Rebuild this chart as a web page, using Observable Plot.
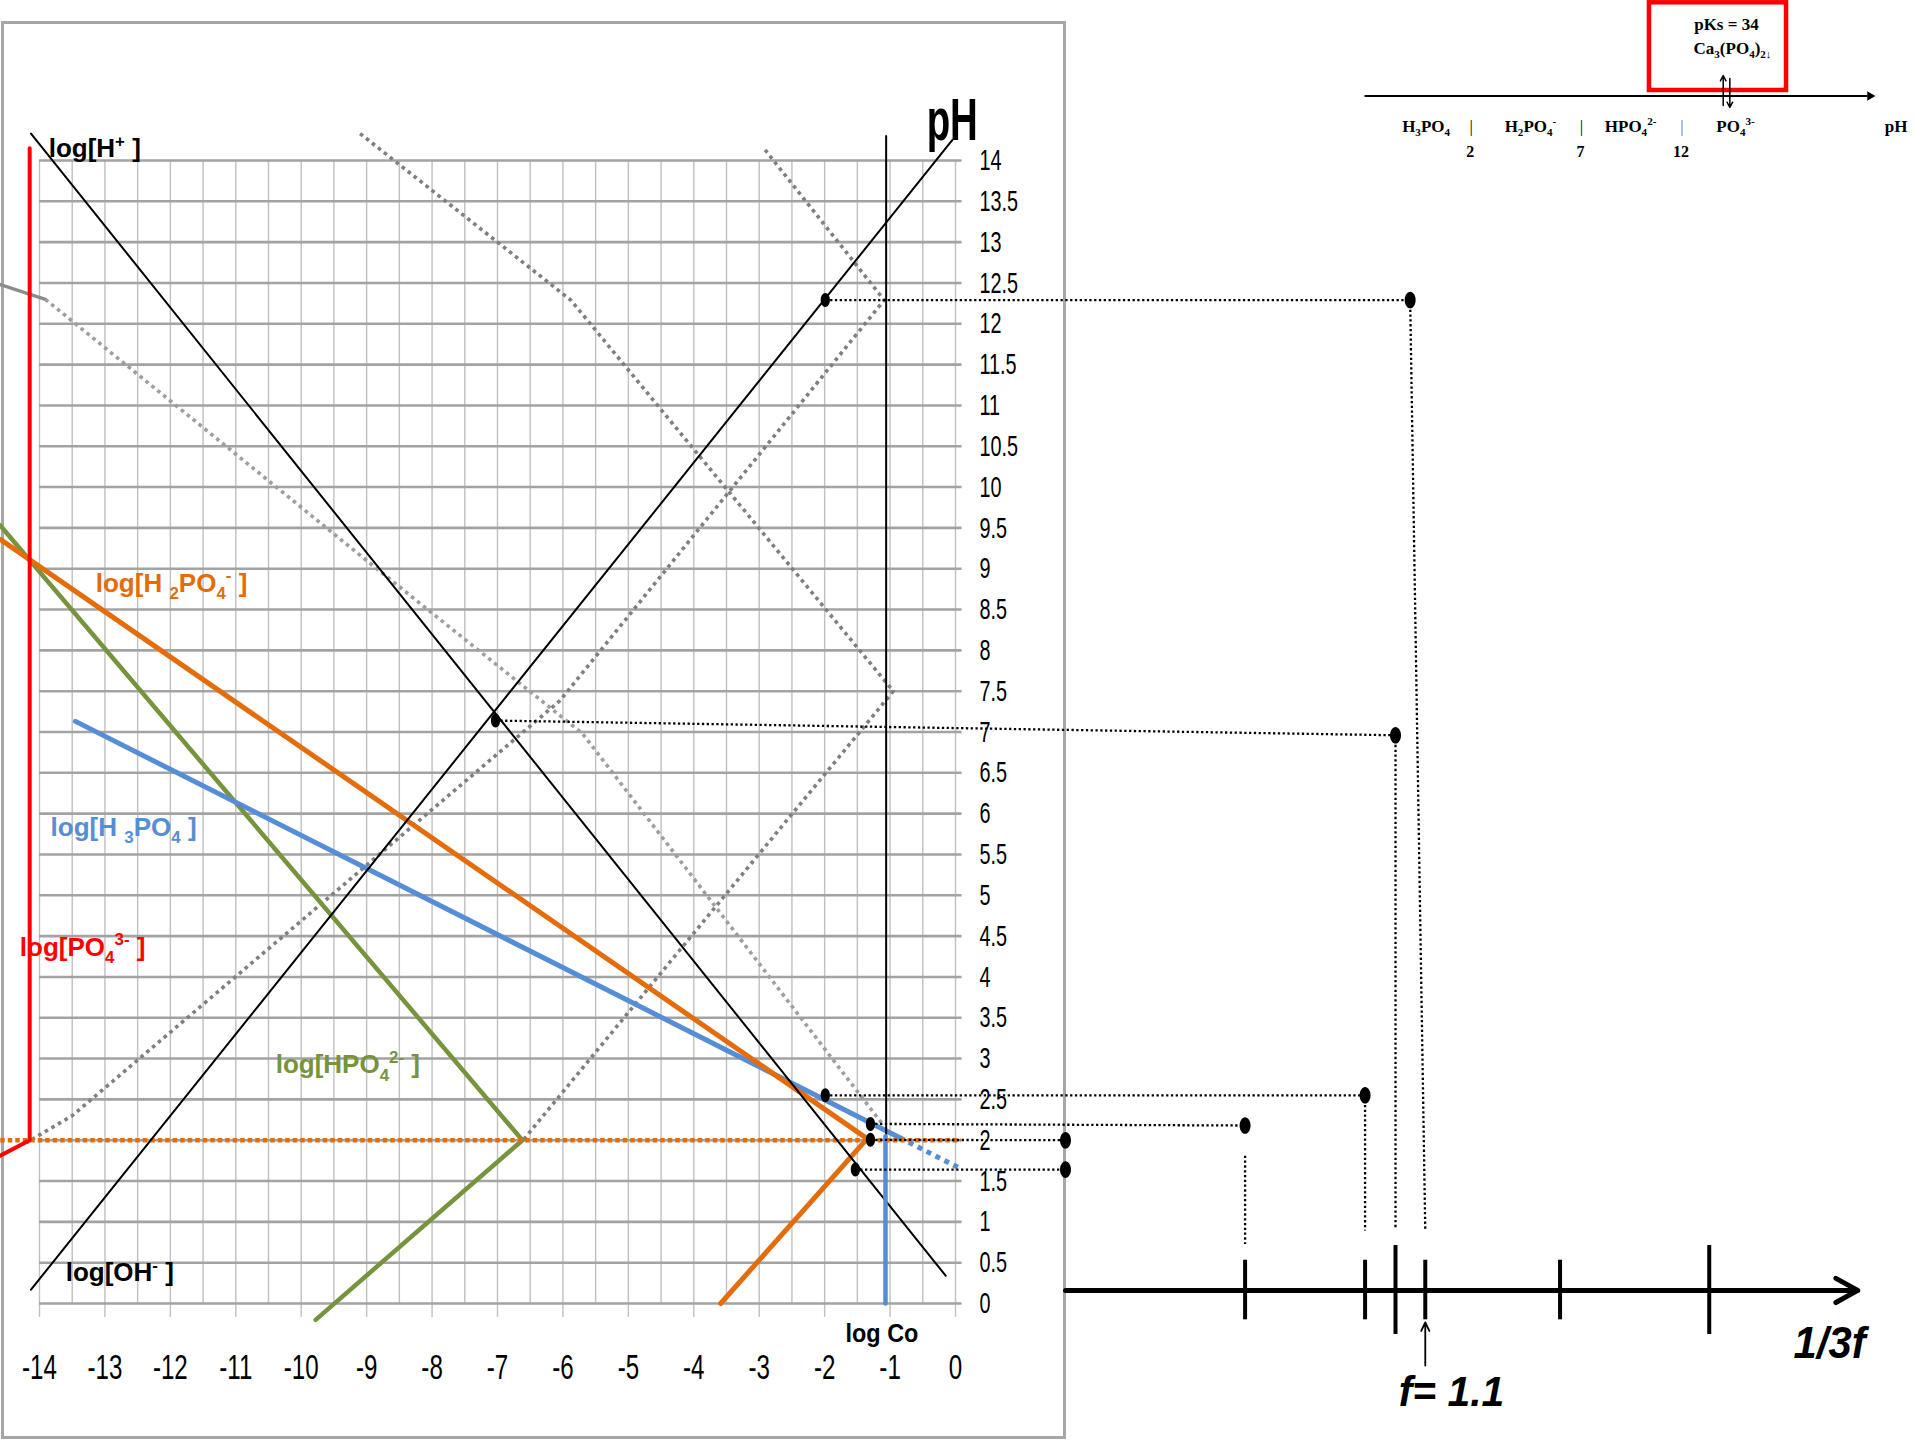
<!DOCTYPE html>
<html><head><meta charset="utf-8">
<script src="https://cdn.jsdelivr.net/npm/d3@7"></script>
<script src="https://cdn.jsdelivr.net/npm/@observablehq/plot@0.6"></script>
<style>
html,body{margin:0;padding:0;background:#fff;}
#wrap{position:relative;width:1917px;height:1440px;overflow:hidden;}
#main{position:absolute;left:0;top:0;}
#inset{position:absolute;left:1340px;top:0;}
</style></head>
<body><div id="wrap"><div id="main"></div><div id="inset"></div></div>
<script>
// ================= DATA =================
// axes
const logCTicks = d3.range(-14, 0.5, 1);          // -14 .. 0
const pHTicks   = d3.range(0, 14.01, 0.5);         // 0 .. 14
const gridX     = d3.range(-14, 0.01, 0.5);

// black reference lines (x = log C, y = pH)
const lineH   = [[-14.13, 14.33], [-0.15, 0.34]];           // log[H+]
const lineOH  = [[-14.13, 0.17], [-0.05, 14.25]];           // log[OH-]
const lineCo  = [[-1.06, 14.30], [-1.06, 2.0]];             // log Co

// species lines
const lineH3PO4      = [[-13.45, 7.13], [-0.85, 2.03]];
const lineH3PO4dot   = [[-0.85, 2.03], [0.08, 1.65]];
const lineH3PO4vert  = [[-1.07, 2.05], [-1.07, 0]];
const lineH2PO4      = [[-14.6, 9.36], [-1.35, 2.02], [-3.59, 0]];
const lineH2PO4dot   = [[-14.6, 2.0], [0.08, 2.0]];
const lineHPO4       = [[-14.6, 9.53], [-6.62, 2.0], [-9.78, -0.2]];
const linePO4        = [[-14.15, 14.15], [-14.15, 2.0], [-14.6, 1.81]];

// grey construction lines
const greyA     = [[-9.10, 14.33], [-5.88, 12.29], [-0.95, 7.5], [-6.62, 1.99]];
const greyB     = [[-2.91, 14.13], [-1.09, 12.29], [-6.05, 7.38], [-13.5, 2.3], [-14.2, 1.97]];
const greyC     = [[-13.91, 12.30], [-9.0, 9.1], [-5.7, 6.98], [-1.1, 2.18]];
const greySolid = [[-14.6, 12.48], [-13.91, 12.30]];

// remarkable points and their projections onto the 1/3f axis
const points = [[-1.99, 12.29], [-7.03, 7.14], [-1.99, 2.55], [-1.30, 2.20], [-1.30, 2.005], [-1.53, 1.64]];
const projEnds = [[6.949, 12.29], [6.725, 6.96], [6.26, 2.55], [4.426, 2.18], [1.681, 2.0], [1.681, 1.64]];
const projDrops = [[6.949, 12.29, 7.18, 0.89], [6.725, 6.96, 6.725, 0.915], [6.26, 2.55, 6.26, 0.894], [4.426, 1.81, 4.426, 0.73]];
const fAxis = {from: 1.681, to: 13.79, level: 0.16};
const fTicks = [4.426, 6.26, 6.725, 7.18, 9.24, 11.52];
const fTickTall = [false, false, true, false, false, true];
const fValue = 1.1;

// labels
const seriesLabels = [
  {text: "log[H{^+} ]",            x: -13.86, y: 14.04, color: "#000000"},
  {text: "log[H {_2}PO{_4}{^-} ]", x: -13.14, y: 8.72,  color: "#E46C0A"},
  {text: "log[H {_3}PO{_4} ]",     x: -13.83, y: 5.73,  color: "#558ED5"},
  {text: "log[PO{_4}{^3-} ]",      x: -14.30, y: 4.26,  color: "#FF0000"},
  {text: "log[HPO{_4}{^2-} ]",     x: -10.39, y: 2.82,  color: "#77933C"},
  {text: "log[OH{^-} ]",           x: -13.60, y: 0.27,  color: "#000000"}
];

// inset (pH predominance axis)
const insetSpecies = [
  {text: "H{_3}PO{_4}", pH: 0},
  {text: "H{_2}PO{_4}{^-}", pH: 4.73},
  {text: "HPO{_4}{^2-}", pH: 9.49},
  {text: "PO{_4}{^3-}", pH: 14.71}
];
const pKa = [2, 7, 12];
const pKaColors = ["#000000", "#000000", "#7a5c99"];
const pKs = 34;

// ================= HELPERS =================
const P = a => a.map(([x, y]) => ({x, y}));
const ellipse = {
  draw(ctx, size) {
    const r = Math.sqrt(size / Math.PI), rx = 0.66 * r, ry = r, k = 0.5523;
    ctx.moveTo(rx, 0);
    ctx.bezierCurveTo(rx, k * ry, k * rx, ry, 0, ry);
    ctx.bezierCurveTo(-k * rx, ry, -rx, k * ry, -rx, 0);
    ctx.bezierCurveTo(-rx, -k * ry, -k * rx, -ry, 0, -ry);
    ctx.bezierCurveTo(k * rx, -ry, rx, -k * ry, rx, 0);
    ctx.closePath();
  }
};
const ORANGE = "#E46C0A", BLUE = "#558ED5", GREEN = "#77933C", RED = "#FF0000";
const SANS = "Liberation Sans, Arial, sans-serif";
const SERIF = "Liberation Serif, Times New Roman, serif";

const line = (pts, o) => Plot.line(P(pts), {x: "x", y: "y", ...o});
const dotted = {strokeWidth: 3.6, strokeDasharray: "3.6,4", strokeLinecap: "butt"};

// ================= MAIN PLOT =================
const main = Plot.plot({
  width: 1917, height: 1440,
  marginLeft: 2, marginTop: 22, marginRight: 853, marginBottom: 3,
  x: {domain: [-14, 0], range: [39, 955], axis: null},
  y: {domain: [0, 14], range: [1303, 160], axis: null},
  style: {background: "white", overflow: "visible"},
  marks: [
    Plot.frame({stroke: "#a6a6a6", strokeWidth: 3}),
    // grid
    Plot.ruleX(gridX, {y1: 0, y2: 14, stroke: "#c0c0c0", strokeWidth: 1.4}),
    Plot.ruleX(logCTicks, {y1: -0.17, y2: 0, stroke: "#c0c0c0", strokeWidth: 1.4}),
    Plot.ruleY(pHTicks, {x1: -14, x2: 0.1, stroke: "#a3a3a3", strokeWidth: 2.6}),
    // grey construction lines
    line(greySolid, {stroke: "#8c8c8c", strokeWidth: 3.5}),
    line(greyC, {stroke: "#9e9e9e", ...dotted}),
    line(greyA, {stroke: "#7f7f7f", ...dotted}),
    line(greyB, {stroke: "#7f7f7f", ...dotted}),
    // species
    line(lineHPO4, {stroke: GREEN, strokeWidth: 4.5}),
    line(lineH3PO4, {stroke: BLUE, strokeWidth: 5}),
    line(lineH3PO4dot, {stroke: BLUE, strokeWidth: 5, strokeDasharray: "5,5", strokeLinecap: "butt"}),
    line(lineH2PO4, {stroke: ORANGE, strokeWidth: 5}),
    line(lineH2PO4dot, {stroke: ORANGE, strokeWidth: 4.5, strokeDasharray: "4.5,3", strokeLinecap: "butt"}),
    line(linePO4, {stroke: RED, strokeWidth: 4}),
    // black lines
    line(lineH, {stroke: "black", strokeWidth: 2}),
    line(lineOH, {stroke: "black", strokeWidth: 2}),
    line(lineCo, {stroke: "black", strokeWidth: 2}),
    line(lineH3PO4vert, {stroke: BLUE, strokeWidth: 4.5}),
    // projections
    Plot.link(points.map((p, i) => ({x1: p[0], y1: p[1], x2: projEnds[i][0], y2: projEnds[i][1]})),
      {x1: "x1", y1: "y1", x2: "x2", y2: "y2", stroke: "black", strokeWidth: 2.3, strokeDasharray: "2.3,2.5"}),
    Plot.link(projDrops.map(d => ({x1: d[0], y1: d[1], x2: d[2], y2: d[3]})),
      {x1: "x1", y1: "y1", x2: "x2", y2: "y2", stroke: "black", strokeWidth: 2.3, strokeDasharray: "2.3,2.5"}),
    Plot.dot(P(points), {x: "x", y: "y", r: 7, symbol: ellipse, fill: "black", stroke: "none"}),
    Plot.dot(P(projEnds), {x: "x", y: "y", r: 8.3, symbol: ellipse, fill: "black", stroke: "none"}),
    // 1/3f axis
    Plot.arrow([fAxis], {x1: "from", x2: "to", y1: "level", y2: "level", stroke: "black", strokeWidth: 5, headLength: 7.5, headAngle: 58}),
    Plot.ruleX(fTicks.map((x, i) => ({x, tall: fTickTall[i]})),
      {x: "x", y1: d => d.tall ? 0.71 : 0.53, y2: d => d.tall ? -0.38 : -0.2, stroke: "black", strokeWidth: 4}),
    Plot.arrow([{x: fTicks[3]}], {x1: "x", x2: "x", y1: -0.76, y2: -0.23, stroke: "black", strokeWidth: 1.8, headLength: 8, headAngle: 50}),
    Plot.text([`f= ${fValue}`], {x: 7.58, y: -1.25, text: d => d, fontFamily: SANS, fontWeight: "bold", fontStyle: "italic", fontSize: 43, lineAnchor: "bottom", textAnchor: "middle", ariaLabel: () => "fval"}),
    Plot.text(["1/3f"], {x: 13.36, y: -0.67, text: d => d, fontFamily: SANS, fontWeight: "bold", fontStyle: "italic", fontSize: 44, lineAnchor: "bottom", textAnchor: "middle", ariaLabel: () => "fval"}),
    // tick labels
    Plot.text(pHTicks, {x: 0, y: d => d, text: d => String(d), dx: 24, textAnchor: "start", lineAnchor: "middle",
      fontFamily: SANS, fontSize: 30, fill: "black", ariaLabel: () => "ytick"}),
    Plot.text(logCTicks, {x: d => d, y: 0, dy: 64, text: d => String(d), textAnchor: "middle", lineAnchor: "middle",
      fontFamily: SANS, fontSize: 35, fill: "black", ariaLabel: () => "xtick"}),
    Plot.text(["pH"], {x: -0.05, y: 14.245, text: d => d, fontFamily: SANS, fontWeight: "bold", fontSize: 60, textAnchor: "middle", lineAnchor: "bottom", ariaLabel: () => "ph"}),
    Plot.text(["log Co"], {x: -1.68, y: -0.474, text: d => d, fontFamily: SANS, fontWeight: "bold", fontSize: 26, textAnchor: "start", lineAnchor: "bottom", ariaLabel: () => "logco"}),
    Plot.text(seriesLabels, {x: "x", y: "y", text: "text", fill: "color", fontFamily: SANS, fontWeight: "bold", fontSize: 26, textAnchor: "start", lineAnchor: "bottom"})
  ]
});

// ================= INSET =================
const inset = Plot.plot({
  width: 577, height: 180, margin: 0,
  x: {type: "linear", domain: [2, 7, 12], range: [129.7, 240, 340.5], axis: null},
  y: {type: "linear", domain: [0, 180], range: [0, 180], axis: null},
  style: {background: "transparent", overflow: "visible"},
  marks: [
    Plot.rect([0], {x1: 10.43, x2: 17.25, y1: 2.3, y2: 90, fill: "none", stroke: RED, strokeWidth: 4.5}),
    Plot.ruleY([95.5], {x1: -2.77, x2: 21.3, stroke: "black", strokeWidth: 1.8}),
    Plot.dot([21.4], {x: d => d, y: 95.5, symbol: "triangle2", rotate: 90, r: 4.5, fill: "black"}),
    Plot.arrow([{x: 14.10, a: 105, b: 75}, {x: 14.43, a: 78, b: 107}], {x1: "x", x2: "x", y1: "a", y2: "b", stroke: "black", strokeWidth: 1.5, headLength: 6, headAngle: 55}),
    Plot.text(insetSpecies, {x: "pH", y: 131, text: "text", fontFamily: SERIF, fontWeight: "bold", fontSize: 17, lineAnchor: "bottom", textAnchor: "middle"}),
    Plot.text(pKa, {x: d => d + 0.05, y: 131, text: () => "|", fill: (d, i) => pKaColors[i], fontFamily: SERIF, fontSize: 17, lineAnchor: "bottom"}),
    Plot.text(pKa, {x: d => d, y: 156, text: d => String(d), fontFamily: SERIF, fontWeight: "bold", fontSize: 16, lineAnchor: "bottom"}),
    Plot.text(["pH"], {x: 22.7, y: 131, text: d => d, fontFamily: SERIF, fontWeight: "bold", fontSize: 17, lineAnchor: "bottom"}),
    Plot.text([`pKs = ${pKs}`], {x: 14.26, y: 29, text: d => d, fontFamily: SERIF, fontWeight: "bold", fontSize: 17, lineAnchor: "bottom"}),
    Plot.text(["Ca{_3}(PO{_4}){_2↓}"], {x: 14.56, y: 53, text: d => d, fontFamily: SERIF, fontWeight: "bold", fontSize: 17, lineAnchor: "bottom"})
  ]
});

// ================= POST-PROCESS TEXT (sub/superscripts, narrow glyphs) =================
const stretch = {ytick: [0.66, 1], xtick: [0.69, 1], ph: [0.64, 1], logco: [0.9, 1], fval: [0.95, 1]};
function richify(t, s) {
  const parts = []; const re = /\{([_^])([^}]*)\}/g; let last = 0, m;
  while ((m = re.exec(s))) {
    if (m.index > last) parts.push({k: "n", s: s.slice(last, m.index)});
    parts.push({k: m[1], s: m[2]}); last = re.lastIndex;
  }
  if (last < s.length) parts.push({k: "n", s: s.slice(last)});
  while (t.firstChild) t.removeChild(t.firstChild);
  t.setAttribute("style", "white-space:pre");
  let cur = 0;
  for (const p of parts) {
    const ts = document.createElementNS("http://www.w3.org/2000/svg", "tspan");
    const sc = p.k === "n" ? 1 : 0.65;
    const target = p.k === "_" ? 0.28 : p.k === "^" ? -0.4 : 0;
    if (sc !== 1) ts.setAttribute("font-size", "65%");
    if (target !== cur) ts.setAttribute("dy", ((target - cur) / sc).toFixed(3) + "em");
    cur = target;
    ts.textContent = p.s;
    t.appendChild(ts);
  }
}
function post(svg) {
  svg.querySelectorAll("text").forEach(t => {
    const key = t.getAttribute("aria-label");
    if (key && stretch[key]) {
      const [sx, sy] = stretch[key];
      t.setAttribute("transform", (t.getAttribute("transform") || "") + ` scale(${sx},${sy})`);
    }
    const s = t.textContent;
    if (s.includes("{")) richify(t, s);
  });
}
post(main); post(inset);
document.getElementById("main").appendChild(main);
document.getElementById("inset").appendChild(inset);
</script>
</body></html>
